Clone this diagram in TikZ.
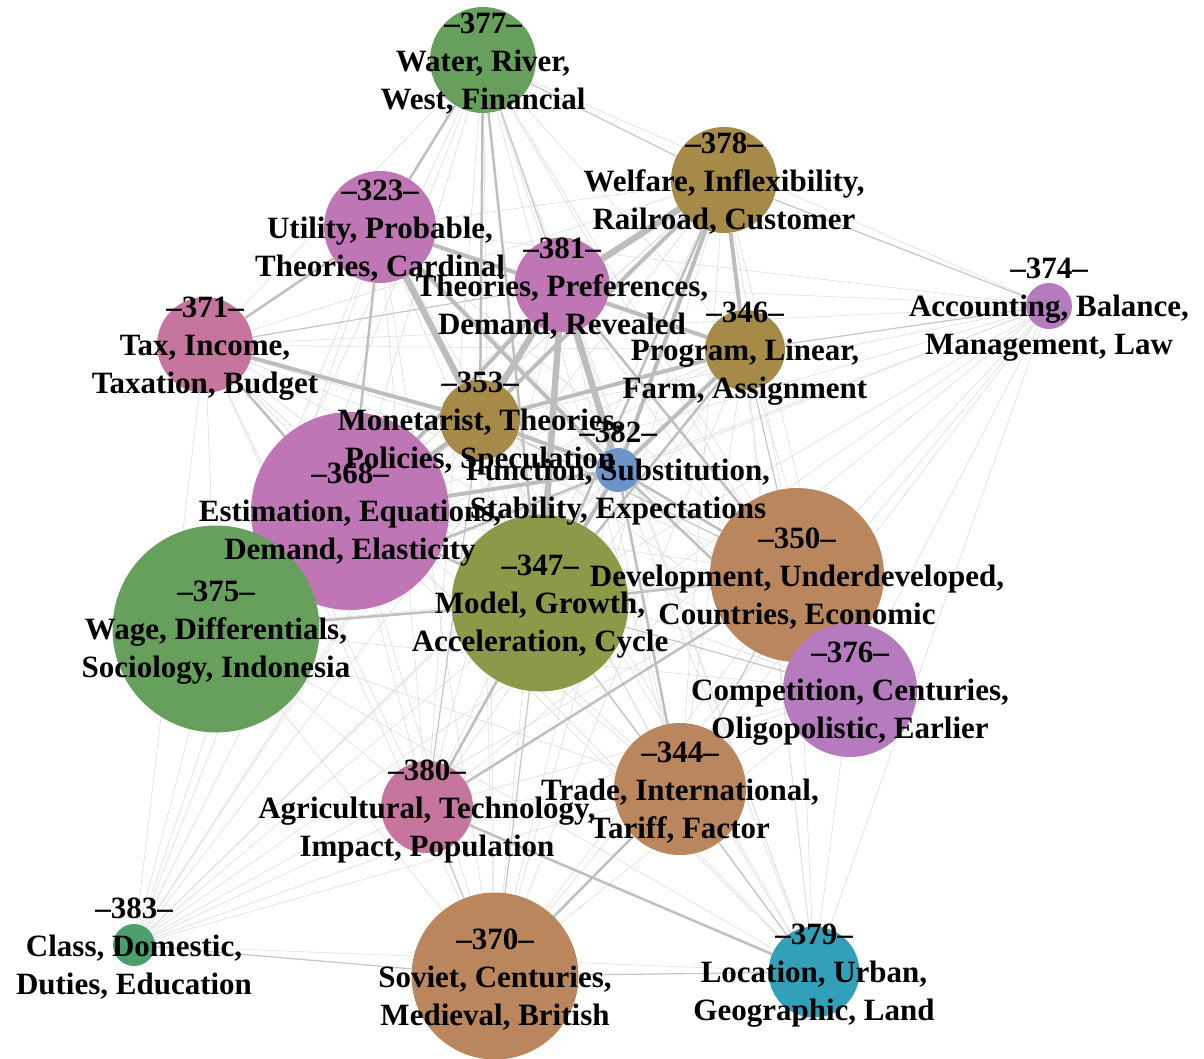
\documentclass[tikz,border=0pt]{standalone}
\usepackage{fontspec}
\setmainfont{Liberation Serif}
\usetikzlibrary{backgrounds}

\definecolor{grnA}{HTML}{67A05C}
\definecolor{grnB}{HTML}{4C9E6C}
\definecolor{gold}{HTML}{A68B48}
\definecolor{orch}{HTML}{BE76B4}
\definecolor{lilac}{HTML}{B57BBE}
\definecolor{rose}{HTML}{C6769E}
\definecolor{blue}{HTML}{6C94C8}
\definecolor{olive}{HTML}{8A9A48}
\definecolor{tan}{HTML}{BA865E}
\definecolor{teal}{HTML}{32A0B8}

\begin{document}
\begin{tikzpicture}[x=1pt, y=-1pt]
  % Set the node and link styles
  \tikzset{topicnode/.style={circle, draw=none, inner sep=0pt},
           topiclabel/.style={align=center, inner sep=0pt,
                              font=\fontsize{31}{38}\selectfont\bfseries},
           faint/.style={draw=black!15, line width=0.5pt},
           light/.style={draw=black!22, line width=1.2pt},
           mid/.style={draw=black!25, line width=2.5pt},
           heavy/.style={draw=black!26, line width=4pt},
           strong/.style={draw=black!26, line width=6.5pt}}

  \useasboundingbox (0,0) rectangle (1204,1058);

  % Draw the topic circles
  \foreach \t/\x/\y/\d/\c in {377/483/60/106/grnA, 378/724/180/106/gold,
      323/380/227/112/orch, 381/562/285/95/orch, 374/1049/306/46/lilac,
      371/205/345/96/rose, 346/745/350/80/gold, 353/480/420/80/gold,
      382/618/470/44/blue, 368/350/511/198/orch, 375/216/629/207/grnA,
      347/540/603/177/olive, 350/797/575/174/tan, 376/850/690/134/lilac,
      344/680/789/132/tan, 380/427/807/92/rose, 383/134/945/42/grnB,
      370/495/976/167/tan, 379/814/972/91/teal}{
    \node[topicnode, fill=\c, minimum size=\d pt] (t\t) at (\x,\y) {};
  }

  % Connect the topics
  \begin{scope}[on background layer]
    \foreach \a [count=\i] in {377,378,323,381,374,371,346,353,382,368,
                               375,347,350,376,344,380,383,370,379}{
      \foreach \b [count=\j] in {377,378,323,381,374,371,346,353,382,368,
                                 375,347,350,376,344,380,383,370,379}{
        \ifnum\j>\i \draw[faint] (t\a) -- (t\b); \fi
      }
    }
    \foreach \a/\b in {370/347, 380/353, 344/347, 376/347, 350/353,
                       374/346, 374/378, 375/368, 370/380, 383/370,
                       370/379, 377/378, 377/381, 371/381, 375/353,
                       376/350, 344/350, 379/344, 346/350}
      \draw[light] (t\a) -- (t\b);
    \foreach \a/\b in {375/347, 347/350, 380/350, 380/347, 377/353,
                       377/347, 375/382, 368/347, 344/382, 370/344,
                       379/380, 376/382, 350/382, 346/347, 323/368,
                       371/368, 381/350, 378/347, 323/371, 377/323}
      \draw[mid] (t\a) -- (t\b);
    \foreach \a/\b in {323/346, 323/382, 378/382, 378/346, 346/353,
                       346/382, 368/353, 368/382, 381/368, 371/353,
                       353/382, 347/382, 378/353}
      \draw[heavy] (t\a) -- (t\b);
    \foreach \a/\b in {381/382, 381/353, 323/353, 378/381, 381/347}
      \draw[strong] (t\a) -- (t\b);
  \end{scope}

  % Write the topic words
  \foreach \t/\la/\lb in {377/{Water, River,}/{West, Financial},
      378/{Welfare, Inflexibility,}/{Railroad, Customer},
      323/{Utility, Probable,}/{Theories, Cardinal},
      381/{Theories, Preferences,}/{Demand, Revealed},
      374/{Accounting, Balance,}/{Management, Law},
      371/{Tax, Income,}/{Taxation, Budget},
      346/{Program, Linear,}/{Farm, Assignment},
      353/{Monetarist, Theories,}/{Policies, Speculation},
      382/{Function, Substitution,}/{Stability, Expectations},
      368/{Estimation, Equations,}/{Demand, Elasticity},
      375/{Wage, Differentials,}/{Sociology, Indonesia},
      347/{Model, Growth,}/{Acceleration, Cycle},
      350/{Development, Underdeveloped,}/{Countries, Economic},
      376/{Competition, Centuries,}/{Oligopolistic, Earlier},
      344/{Trade, International,}/{Tariff, Factor},
      380/{Agricultural, Technology,}/{Impact, Population},
      383/{Class, Domestic,}/{Duties, Education},
      370/{Soviet, Centuries,}/{Medieval, British},
      379/{Location, Urban,}/{Geographic, Land}}{
    \node[topiclabel] (l\t) at ([yshift=-4pt]t\t.center)
      {\textendash\t\textendash\\\la\\\lb};
  }
\end{tikzpicture}
\end{document}
